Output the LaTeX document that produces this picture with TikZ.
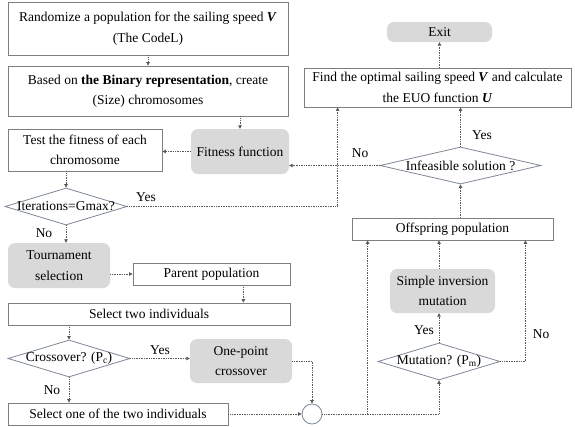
\documentclass[tikz,border=0pt]{standalone}
\usepackage{fontspec}
\setmainfont{Liberation Serif}
\usetikzlibrary{shapes.geometric,arrows.meta}
\definecolor{edgegray}{HTML}{7F7F7F}
\definecolor{diagray}{HTML}{7D8796}
\definecolor{fillgray}{HTML}{D9D9D9}
\definecolor{linegray}{HTML}{595959}
\begin{document}
\begin{tikzpicture}[x=1pt,y=-1pt,
  txt/.style={font=\fontsize{13.5}{20.5}\selectfont, align=center},
  box/.style={txt, draw=edgegray, fill=white, line width=0.8pt, inner sep=0pt},
  gbox/.style={txt, fill=fillgray, rounded corners=7pt, inner sep=0pt},
  dia/.style={diamond, draw=diagray, fill=white, line width=0.8pt, inner sep=0pt},
  lbl/.style={txt, inner sep=0pt},
  conn/.style={draw=linegray, densely dotted, line width=0.7pt,
    -{Triangle[length=3.5pt,width=3.5pt]}}]
\useasboundingbox (0,0) rectangle (575,426);

% left column
\node[box, minimum width=280pt, minimum height=53pt] (rand) at (148,28.5)
  {Randomize a population for the sailing speed \textbf{\textit{V}}\\(The CodeL)};
\node[box, minimum width=280pt, minimum height=50pt] (bin) at (148,91)
  {Based on \textbf{the Binary representation}, create\\(Size) chromosomes};
\node[box, minimum width=154pt, minimum height=42pt] (test) at (85,150)
  {Test the fitness of each\\chromosome};
\node[gbox, minimum width=98pt, minimum height=45pt] (fit) at (240,151.5)
  {Fitness function};
\node[dia, minimum width=122pt, minimum height=37pt] (iter) at (66,206.5) {};
\node[lbl] (itert) at (iter.center) {Iterations=Gmax?};
\node[gbox, minimum width=102pt, minimum height=45pt] (tour) at (59,265.5)
  {Tournament\\selection};
\node[box, minimum width=157pt, minimum height=22pt] (par) at (211.5,274)
  {Parent population};
\node[box, minimum width=282pt, minimum height=22pt] (two) at (149,314)
  {Select two individuals};
\node[dia, minimum width=122pt, minimum height=37pt] (cross) at (69,358.5) {};
\node[lbl] (crosst) at (cross.center) {Crossover? (P\textsubscript{c})};
\node[gbox, minimum width=102pt, minimum height=44pt] (onep) at (241,361)
  {One-point\\crossover};
\node[box, minimum width=220pt, minimum height=22pt] (one) at (118,414)
  {Select one of the two individuals};
\node[circle, draw=diagray, fill=white, line width=0.8pt, minimum size=20pt, inner sep=0pt] (join) at (312,414) {};

% right column
\node[dia, minimum width=122pt, minimum height=37pt] (mut) at (439,361.5) {};
\node[lbl] (mutt) at (mut.center) {Mutation? (P\textsubscript{m})};
\node[gbox, minimum width=105pt, minimum height=44pt] (inv) at (442.5,291)
  {Simple inversion\\mutation};
\node[box, minimum width=201pt, minimum height=22pt] (off) at (452.5,229)
  {Offspring population};
\node[dia, minimum width=161pt, minimum height=37pt] (inf) at (460.5,165.5) {};
\node[lbl] (inft) at (inf.center) {Infeasible solution ?};
\node[box, minimum width=267pt, minimum height=39pt] (opt) at (437.5,87.5)
  {Find the optimal sailing speed \textbf{\textit{V}} and calculate\\the EUO function \textbf{\textit{U}}};
\node[gbox, minimum width=105pt, minimum height=20pt] (exit) at (439.5,32) {Exit};

% connectors
\draw[conn] (rand.south) -- (bin.north);
\draw[conn] (bin.south -| fit.north) -- (fit.north);
\draw[conn] (fit.west) -- (fit.west -| test.east);
\draw[conn] (iter.north |- test.south) -- (iter.north);
\draw[conn] (iter.east) -| ([xshift=34pt]opt.south west);
\draw[conn] (iter.south) -- (iter.south |- tour.north);
\draw[conn] (par.west -| tour.east) -- (par.west);
\draw[conn] ([xshift=-47pt]par.south east) -- ([xshift=-47pt]par.south east |- two.north);
\draw[conn] (cross.north |- two.south) -- (cross.north);
\draw[conn] (cross.east) -- (cross.east -| onep.west);
\draw[conn] (cross.south) -- (cross.south |- one.north);
\draw[conn] (one.east) -- (join.west);
\draw[conn] (onep.east) -| (join.north);
\draw[conn] (join.east) -| (mut.south);
\draw[conn] (join.east) -| ([xshift=16pt]off.south west);
\draw[conn] (mut.north) -- (mut.north |- inv.south);
\draw[conn] (mut.north |- inv.north) -- (mut.north |- off.south);
\draw[conn] (mut.east) -| ([xshift=-28pt]off.south east);
\draw[conn] (off.north -| inf.south) -- (inf.south);
\draw[conn] (inf.north) -- (inf.north |- opt.south);
\draw[conn] (inf.west) -- (inf.west -| fit.east);
\draw[conn] (exit.south |- opt.north) -- (exit.south);

% branch labels
\node[lbl] (y1) at (146,197) {Yes};
\node[lbl] (n1) at (44,233) {No};
\node[lbl] (n2) at (360,153) {No};
\node[lbl] (y2) at (482,135) {Yes};
\node[lbl] (y3) at (160,350) {Yes};
\node[lbl] (n3) at (52,390) {No};
\node[lbl] (y4) at (424,330) {Yes};
\node[lbl] (n4) at (541,334) {No};
\end{tikzpicture}
\end{document}
